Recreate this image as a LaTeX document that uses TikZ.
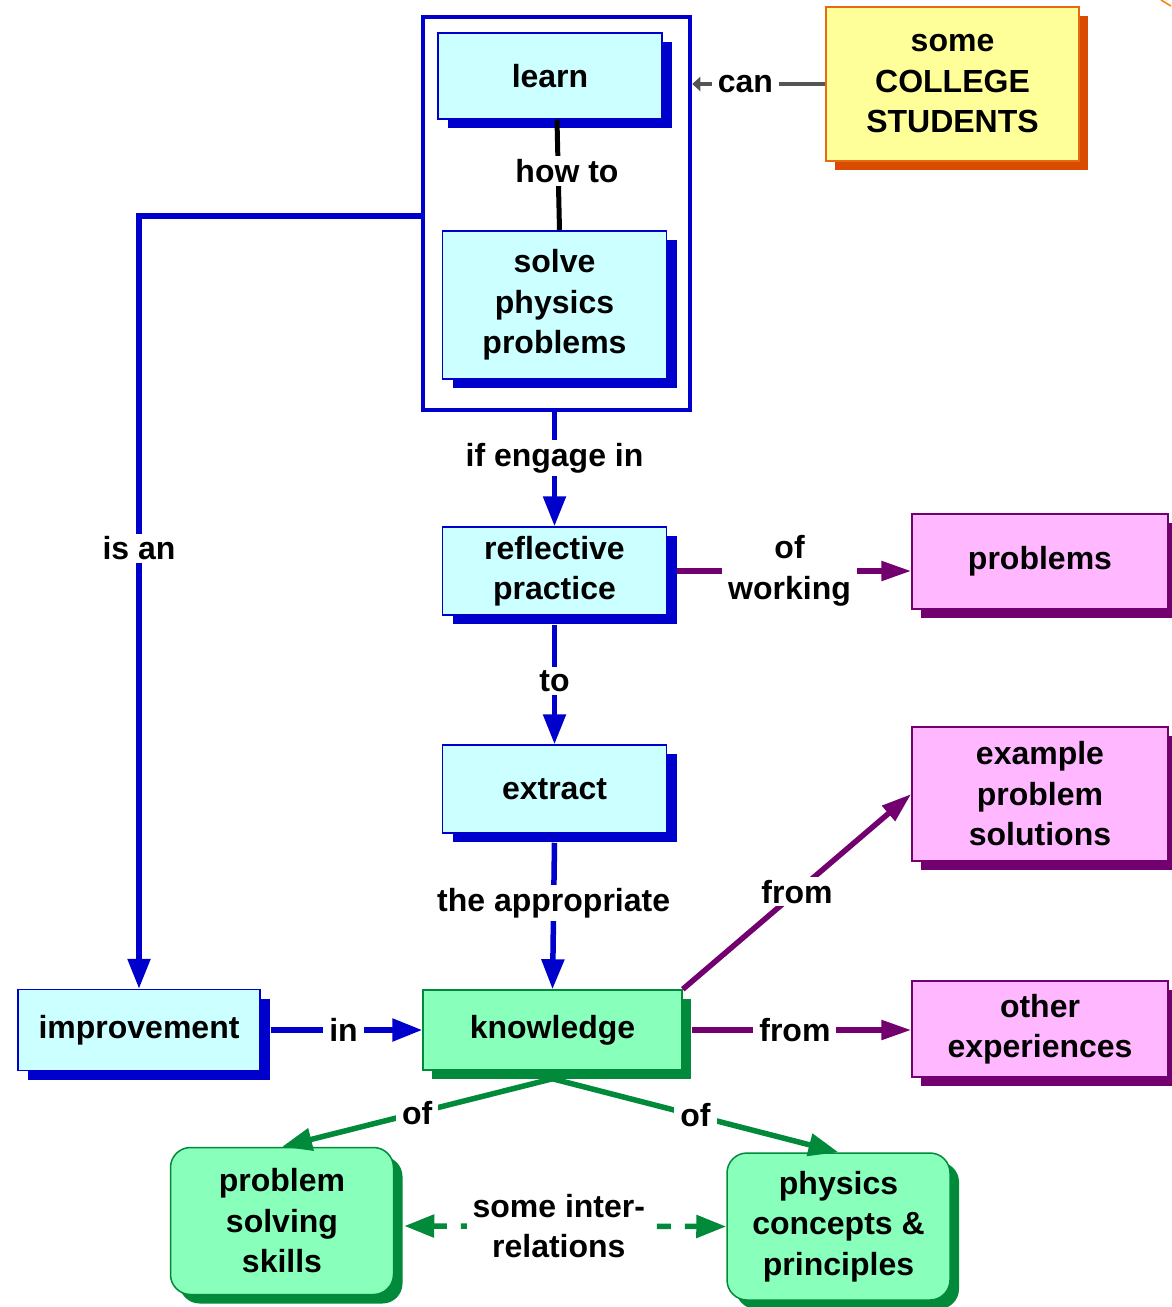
\documentclass[tikz,border=0pt]{standalone}
\usepackage{fontspec}
\setmainfont{Liberation Sans}
\usetikzlibrary{arrows.meta,shadows}
\definecolor{cyanfill}{HTML}{CCFFFF}
\definecolor{bluec}{HTML}{0000CC}
\definecolor{yelfill}{HTML}{FFFF99}
\definecolor{orgline}{HTML}{E86A10}
\definecolor{orgshadow}{HTML}{D94C00}
\definecolor{pinkfill}{HTML}{FFB8FF}
\definecolor{purp}{HTML}{72006E}
\definecolor{greenfill}{HTML}{88FFBB}
\definecolor{greenc}{HTML}{008A3A}
\definecolor{grayc}{HTML}{555555}
\begin{document}
\begin{tikzpicture}[x=1pt,y=-1pt,
  every node/.style={font=\fontsize{32}{40.5}\selectfont\bfseries, align=center},
  basebox/.style={rectangle, inner sep=0pt, line width=1.5pt},
  bluebox/.style={basebox, draw=bluec, fill=cyanfill,
     drop shadow={shadow xshift=10pt, shadow yshift=-9pt, opacity=1, fill=bluec}},
  yelbox/.style={basebox, draw=orgline, fill=yelfill,
     drop shadow={shadow xshift=9pt, shadow yshift=-9pt, opacity=1, fill=orgshadow}},
  pinkbox/.style={basebox, draw=purp, fill=pinkfill,
     drop shadow={shadow xshift=9pt, shadow yshift=-9pt, opacity=1, fill=purp}},
  greenbox/.style={basebox, draw=greenc, fill=greenfill,
     drop shadow={shadow xshift=9pt, shadow yshift=-9pt, opacity=1, fill=greenc}},
  roundgreen/.style={greenbox, rounded corners=20pt},
  lbl/.style={fill=white, inner xsep=6pt, inner ysep=3pt},
  bluearr/.style={draw=bluec, line width=5.5pt, -{Triangle[length=30pt,width=22pt]}},
  purparr/.style={draw=purp, line width=5.5pt, -{Triangle[length=30pt,width=19pt]}},
  greenarr/.style={draw=greenc, line width=5.5pt, -{Triangle[length=30pt,width=22pt]}},
  dasharr/.style={draw=greenc, line width=5.5pt, dash pattern=on 14pt off 14pt,
     {Triangle[length=30pt,width=22pt]}-{Triangle[length=30pt,width=22pt]}}
]
\useasboundingbox (0,0) rectangle (1171,1307);

% group container
\node[rectangle, draw=bluec, line width=4.5pt, minimum width=267pt, minimum height=393pt, inner sep=0pt] (grp) at (556.5,213.5) {};

% nodes
\node[bluebox, minimum width=224pt, minimum height=86pt] (learn) at (550,76) {learn};
\node[bluebox, minimum width=224pt, minimum height=148pt] (solve) at (554.5,305) {solve\\physics\\problems};
\node[yelbox, minimum width=253pt, minimum height=154pt] (college) at (952.5,84) {some\\COLLEGE\\STUDENTS};
\node[bluebox, minimum width=224pt, minimum height=88pt] (refl) at (554.5,571) {reflective\\practice};
\node[bluebox, minimum width=224pt, minimum height=88pt] (extract) at (554.5,789) {extract};
\node[greenbox, minimum width=259pt, minimum height=80pt] (know) at (552.5,1030) {knowledge};
\node[bluebox, minimum width=242pt, minimum height=81pt] (improv) at (139,1030) {improvement};
\node[pinkbox, minimum width=256pt, minimum height=95pt] (problems) at (1040,561.5) {problems};
\node[pinkbox, minimum width=256pt, minimum height=134pt] (example) at (1040,794) {example\\problem\\solutions};
\node[pinkbox, minimum width=256pt, minimum height=96pt] (other) at (1040,1029) {other\\experiences};
\node[roundgreen, minimum width=223pt, minimum height=147pt] (pss) at (282,1221) {problem\\solving\\skills};
\node[roundgreen, minimum width=223pt, minimum height=147pt] (phys) at (838.5,1226.5) {physics\\concepts \&\\principles};

% connectors
\draw[draw=grayc, line width=4.5pt, -{Triangle[length=8pt,width=14pt]}] (college.west) -- node[lbl, pos=0.6] {can} (college.west -| grp.east);

\draw[line width=5pt] ([xshift=7pt]learn.south) -- ([xshift=5pt]solve.north);
\node[lbl] (howto) at (567,171) {how to};

\draw[bluearr] (grp.south -| refl.north) -- node[lbl, pos=0.4] {if engage in} (refl.north);
\draw[bluearr] ([yshift=-9pt]refl.south) -- node[lbl, pos=0.47] {to} (extract.north);
\draw[bluearr] ([yshift=-9pt]extract.south) -- node[lbl, pos=0.41] {the appropriate} (know.north);

\coordinate (isanTurn) at (139,216);
\draw[bluearr] (grp.west |- isanTurn) -- (isanTurn) -- node[lbl, pos=0.43] {is an} (improv.north);
\draw[bluearr] ([xshift=10pt]improv.east) -- node[lbl, pos=0.48] {in} (know.west);

\draw[purparr] ([xshift=10pt]refl.east) -- node[lbl, pos=0.48] {of\\working} (refl.east -| problems.west);
\draw[purparr] (know.north east) -- node[lbl, pos=0.5] {from} (example.west);
\draw[purparr] ([xshift=9pt]know.east) -- node[lbl, pos=0.47] {from} (know.east -| other.west);

\draw[greenarr] ([yshift=-8pt]know.south) -- node[lbl, pos=0.5] {of} (pss.north);
\draw[greenarr] ([yshift=-8pt]know.south) -- node[lbl, pos=0.5] {of} (phys.north);

\draw[dasharr] ([xshift=10pt]pss.east |- 0,1226) -- node[lbl, pos=0.48] {some inter-\\relations} (phys.west);

% small orange stroke at corner
\draw[draw=orange, line width=1.5pt] (1161,0) -- (1171,6);
\end{tikzpicture}
\end{document}
